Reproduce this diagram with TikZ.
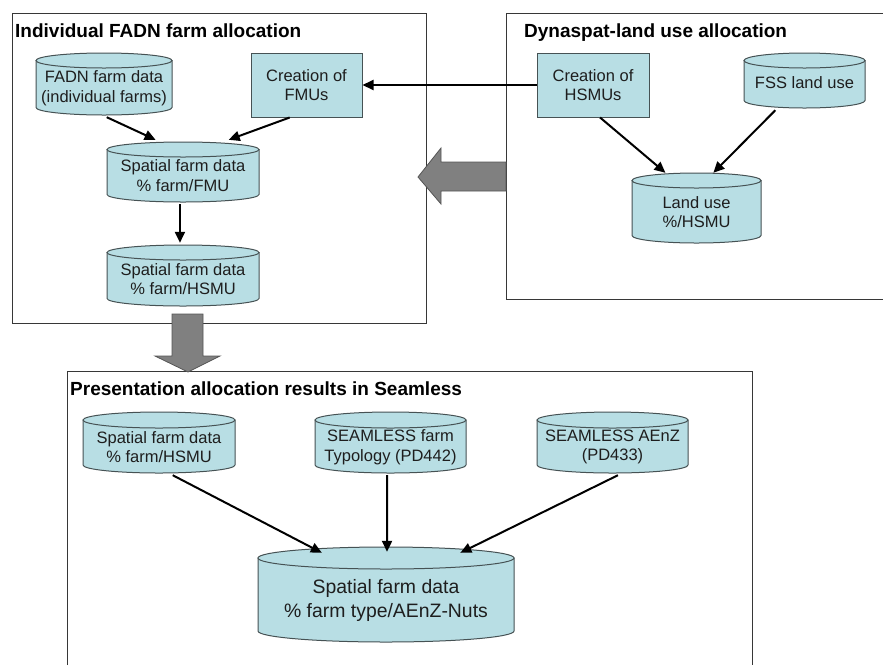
\documentclass[tikz,border=0pt]{standalone}
\usepackage{fontspec}
\setmainfont{Liberation Sans}
\usetikzlibrary{arrows.meta,calc}
\definecolor{cylfillc}{RGB}{184,222,228}
\definecolor{cyldrawc}{RGB}{70,82,84}
\definecolor{framec}{RGB}{55,55,55}
\definecolor{blockc}{RGB}{128,128,128}
\definecolor{blockd}{RGB}{85,85,85}
\definecolor{txtc}{RGB}{30,30,30}
\tikzset{
  frame/.style={draw=framec,line width=1pt},
  cylbody/.style={draw=cyldrawc,fill=cylfillc,line width=1pt},
  procbox/.style={draw=cyldrawc,fill=cylfillc,line width=1pt,inner sep=0pt,align=center,
     text=txtc,font=\fontsize{16.5}{19.5}\selectfont},
  cyltext/.style={align=center,inner sep=0pt,text=txtc,font=\fontsize{16.5}{19.5}\selectfont},
  bigtext/.style={align=center,inner sep=0pt,text=txtc,font=\fontsize{19.4}{24}\selectfont},
  titletext/.style={anchor=base west,inner sep=0pt,font=\bfseries\fontsize{19}{22}\selectfont},
  flow/.style={draw=black,line width=2pt,-{Triangle[length=11pt,width=10pt]}},
  blockarrow/.style={fill=blockc,draw=blockd,line width=0.8pt},
}
% #1 name, #2 x1, #3 y1, #4 x2, #5 y2, #6 ry, #7 text y, #8 text style, #9 text
\newcommand\cylnode[9]{%
  \pgfmathsetmacro\rxv{(#4-#2)/2}%
  \pgfmathsetmacro\cxv{(#4+#2)/2}%
  \pgfmathsetmacro\cyv{(#3+#5)/2}%
  \pgfmathsetmacro\wv{#4-#2}%
  \pgfmathsetmacro\hv{#5-#3}%
  \draw[cylbody] (#2,#3+#6) -- (#2,#5-#6) arc[start angle=180,end angle=360,x radius=\rxv pt,y radius=#6pt] -- (#4,#3+#6) -- cycle;
  \draw[cylbody] (\cxv,#3+#6) ellipse[x radius=\rxv pt,y radius=#6pt];
  \node[minimum width=\wv pt,minimum height=\hv pt,inner sep=0pt] (#1) at (\cxv,\cyv) {};
  \node[#8] (#1-t) at (\cxv,#7) {#9};
}
\begin{document}
\begin{tikzpicture}[x=1pt,y=-1pt]
\useasboundingbox[fill=white] (0,0) rectangle (883,665);

% frames
\draw[frame] (12,13) rectangle (426,323);
\draw[frame] (883,13) -- (506,13) -- (506,299) -- (883,299);
\draw[frame] (67,665) -- (67,371) -- (752,371) -- (752,665);

% titles
\node[titletext] (t1) at (15,37) {Individual FADN farm allocation};
\node[titletext] (t2) at (524,37) {Dynaspat-land use allocation};
\node[titletext] (t3) at (70,395) {Presentation allocation results in Seamless};

% box 1
\cylnode{fadn}{36}{53}{172}{115}{7.5}{88}{cyltext}{FADN farm data\\(individual farms)}
\node[procbox,minimum width=111pt,minimum height=64pt] (fmus) at (306.5,85) {Creation of\\FMUs};
\cylnode{fmu}{107}{142}{259}{202}{7.5}{175.5}{cyltext}{Spatial farm data\\\% farm/FMU}
\cylnode{hsmu}{107}{245}{259}{306}{7.5}{279}{cyltext}{Spatial farm data\\\% farm/HSMU}

% box 2
\node[procbox,minimum width=112pt,minimum height=64pt] (hsmus) at (593,85) {Creation of\\HSMUs};
\cylnode{fss}{744}{53}{865}{108}{7.5}{83}{cyltext}{FSS land use}
\cylnode{landuse}{632}{173}{761}{243}{7.5}{212}{cyltext}{Land use\\\%/HSMU}

% box 3
\cylnode{b1}{83}{412}{235}{473}{8}{447}{cyltext}{Spatial farm data\\\% farm/HSMU}
\cylnode{b2}{315}{412}{466}{473}{8}{447}{cyltext}{SEAMLESS farm\\Typology (PD442)}
\cylnode{b3}{537}{412}{688}{473}{8}{447}{cyltext}{SEAMLESS AEnZ\\(PD433)}
\cylnode{big}{258}{547}{514}{642}{11}{600}{bigtext}{Spatial farm data\\\% farm type/AEnZ-Nuts}

% block arrows
\draw[blockarrow] (506,162) -- (441,162) -- (441,148) -- (418,177) -- (441,204) -- (441,191) -- (506,191) -- cycle;
\draw[blockarrow] (172,314) -- (203,314) -- (203,356) -- (220,356) -- (188,372) -- (155,356) -- (172,356) -- cycle;

% connectors
\draw[flow] ($(fadn.south west)!0.52!(fadn.south east)+(0,2)$) -- ($(fmu.north west)!0.32!(fmu.north east)+(0,-2)$);
\draw[flow] ($(fmus.south west)!0.35!(fmus.south east)$) -- ($(fmu.north west)!0.80!(fmu.north east)+(0,-2)$);
\draw[flow] ($(fmu.south west)!0.48!(fmu.south east)+(0,2)$) -- ($(hsmu.north west)!0.48!(hsmu.north east)+(0,-2)$);
\draw[flow] (hsmus.west) -- (fmus.east);
\draw[flow] ($(hsmus.south west)!0.5625!(hsmus.south east)$) -- ($(landuse.north west)!0.26!(landuse.north east)$);
\draw[flow] ($(fss.south west)!0.26!(fss.south east)+(0,2)$) -- ($(landuse.north west)!0.63!(landuse.north east)$);
\draw[flow] ($(b1.south west)!0.59!(b1.south east)+(0,2)$) -- ($(big.north west)!0.25!(big.north east)+(0,6)$);
\draw[flow] ($(b2.south west)!0.477!(b2.south east)+(0,2)$) -- ($(big.north west)!0.504!(big.north east)+(0,5)$);
\draw[flow] ($(b3.south west)!0.536!(b3.south east)+(0,2)$) -- ($(big.north west)!0.79!(big.north east)+(0,6)$);
\end{tikzpicture}
\end{document}
